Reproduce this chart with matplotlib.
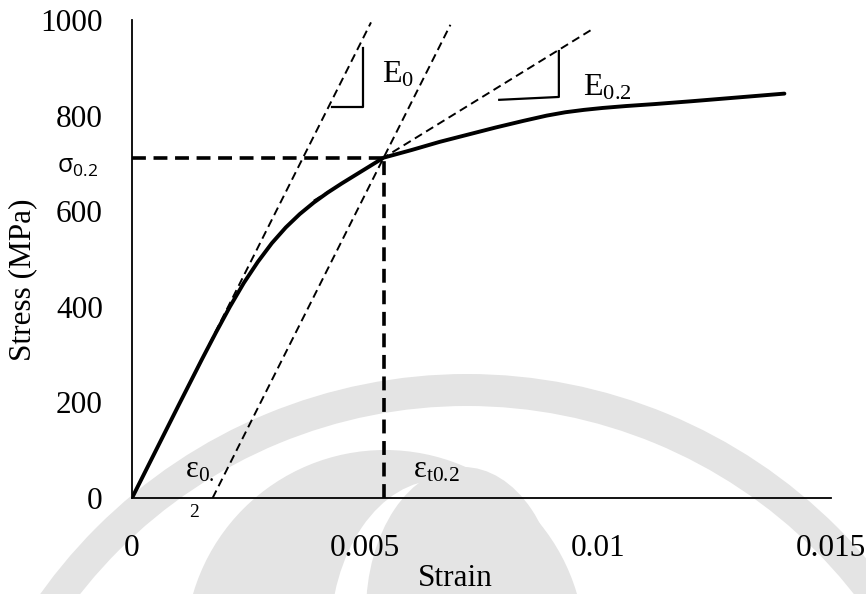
import matplotlib
matplotlib.use("Agg")
import matplotlib.pyplot as plt
from matplotlib.patches import Wedge, Ellipse, Circle

# ---------------- data ----------------
strain = [0.0, 0.0005, 0.0010, 0.0015, 0.0018, 0.0021, 0.0024, 0.0027,
          0.0030, 0.0033, 0.0036, 0.0039, 0.0042, 0.0045, 0.0048, 0.0051,
          0.0054, 0.0060, 0.0066, 0.0072, 0.0078, 0.0084, 0.0089, 0.0093,
          0.0097, 0.0101, 0.0106, 0.0112, 0.0120, 0.0130, 0.0140]
stress = [0, 97, 194, 290, 346, 400, 450, 494,
          533, 566, 594, 618, 639, 658, 676, 694,
          712, 728, 745, 760, 775, 789, 800, 807,
          812, 816, 820, 824, 830, 838, 846]

E0 = 194000.0          # initial modulus (MPa)
E02 = 60000.0          # tangent modulus at the 0.2% proof stress (MPa)
sigma_02 = 712.0       # proof stress (MPa)
eps_t02 = 0.0054       # total strain at the proof stress
eps_off = eps_t02 - sigma_02 / E0   # intercept of the offset line

E0_top = 995.0         # stress at the upper end of the E0 line
off_top = 990.0        # stress at the upper end of the offset line
tan_range = [0.0039, 0.00987]   # strain span of the E0.2 tangent

# slope markers (strain, stress)
tri_E0_x = [0.00429, 0.00496, 0.00496]
tri_E0_y = [818, 818, 941]
tri_E02_x = [0.00788, 0.00916, 0.00916]
tri_E02_y = [833, 839, 935]

xticks = [0, 0.005, 0.01, 0.015]
xtick_labels = ["0", "0.005", "0.01", "0.015"]
yticks = [0, 200, 400, 600, 800, 1000]
ytick_labels = ["0", "200", "400", "600", "800", "1000"]

# ---------------- style ----------------
plt.rcParams.update({
    "font.family": ["Liberation Serif", "DejaVu Serif"],
    "mathtext.fontset": "custom",
    "mathtext.rm": "Liberation Serif",
    "mathtext.it": "Liberation Serif:italic",
    "mathtext.bf": "Liberation Serif:bold",
    "mathtext.sf": "Open Sans",
    "lines.scale_dashes": False,
})

W, H = 866, 594
fig = plt.figure(figsize=(W / 100, H / 100), dpi=100)

# faint logo in the background
bg = fig.add_axes([0, 0, 1, 1], zorder=0)
bg.set_xlim(0, W)
bg.set_ylim(H, 0)
bg.axis("off")
wm = "#e4e4e4"
bg.add_patch(Wedge((467, 898), 524, 0, 360, width=32, color=wm, lw=0))
bg.add_patch(Circle((385, 650), 200, color=wm, lw=0))
bg.add_patch(Ellipse((440, 640), 220, 320, color="white", lw=0))
bg.add_patch(Ellipse((463, 612), 194, 290, color=wm, lw=0))

# main axes
ax = fig.add_axes([132 / W, 1 - 498 / H, 699 / W, 478 / H], zorder=2)
ax.patch.set_alpha(0)
ax.set_xlim(0, 0.015)
ax.set_ylim(0, 1000)
for s in ("top", "right"):
    ax.spines[s].set_visible(False)
for s in ("left", "bottom"):
    ax.spines[s].set_linewidth(1.3)
    ax.spines[s].set_color("black")
ax.set_xticks(xticks, xtick_labels)
ax.set_yticks(yticks, ytick_labels)
ax.tick_params(axis="both", length=0, labelsize=22.5)
ax.tick_params(axis="y", pad=21)
ax.tick_params(axis="x", pad=26)

thin = dict(color="black", lw=1.4, linestyle=(0, (6, 3.5)))
thick = dict(color="black", lw=2.6, linestyle=(0, (10, 5.5)))

# E0 line from origin
ax.plot([0, E0_top / E0], [0, E0_top], **thin)
# 0.2% offset line
ax.plot([eps_off, eps_off + off_top / E0], [0, off_top], **thin)
# tangent at the proof stress
ax.plot(tan_range, [sigma_02 + E02 * (x - eps_t02) for x in tan_range], **thin)

# proof stress / strain guides
ax.plot([0, eps_t02], [sigma_02, sigma_02], **thick)
ax.plot([eps_t02, eps_t02], [0, sigma_02], **thick)

# stress-strain curve
ax.plot(strain, stress, color="black", lw=2.8, solid_capstyle="round",
        solid_joinstyle="round", zorder=3)

# slope markers
ax.plot(tri_E0_x, tri_E0_y, color="black", lw=1.6)
ax.plot(tri_E02_x, tri_E02_y, color="black", lw=1.6)

# annotations
ax.text(0.00536, 870, r"$\mathrm{E_0}$", fontsize=23, va="baseline")
ax.text(0.00968, 843, r"$\mathrm{E_{0.2}}$", fontsize=23, va="baseline")
ax.text(0.00603, 42, r"$\mathrm{ε_{t0.2}}$", fontsize=22, va="baseline")
ax.text(0.00114, 42, r"$\mathrm{ε_{0.}}$", fontsize=22, va="baseline")
ax.text(0.00122, -40, "2", fontsize=14, va="baseline", clip_on=False)
ax.text(-0.00161, 680, r"$\mathsf{σ_{0.2}}$", fontsize=18, va="baseline",
        clip_on=False)

# axis titles
fig.text(23 / W, 1 - 280 / H, "Stress (MPa)", rotation=90, fontsize=22.5,
         ha="center", va="center")
fig.text(455 / W, 1 - 586 / H, "Strain", fontsize=22.5, ha="center",
         va="baseline")

fig.savefig("out.png", dpi=100)
